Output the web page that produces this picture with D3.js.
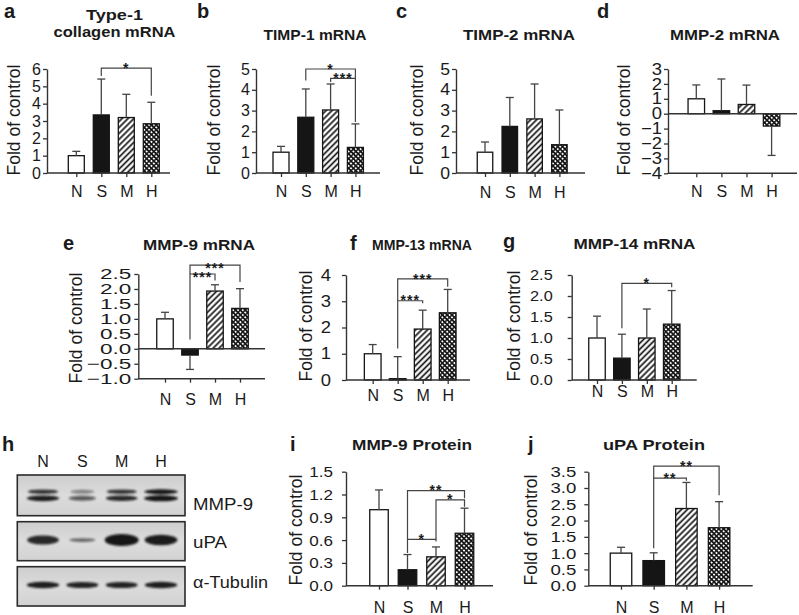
<!DOCTYPE html>
<html><head><meta charset="utf-8">
<script src="https://cdn.jsdelivr.net/npm/d3@7"></script>
<style>
body{margin:0;background:#fff}
svg{display:block}
text{font-family:Arial,"Liberation Sans",sans-serif;fill:#1a1a1a}
</style>
</head><body>
<svg id="fig" width="799" height="615"></svg>
<script>
// ---------------- DATA ----------------
const categories = ["N", "S", "M", "H"];

// a: Type-1 collagen mRNA
const collagenMean = [1.0, 3.35, 3.2, 2.84];
const collagenErr  = [0.25, 2.07, 1.34, 1.24];
const collagenTicks = [0, 1, 2, 3, 4, 5, 6];
const collagenSig = [["S", "H", 6.05, 5.6, 4.45, "*"]];

// b: TIMP-1 mRNA
const timp1Mean = [1.0, 2.68, 3.03, 1.23];
const timp1Err  = [0.28, 1.36, 1.25, 1.13];
const timp1Ticks = [0, 1, 2, 3, 4, 5];
const timp1Sig = [["S", "H", 5.0, 4.45, 4.55, "*"], ["M", "H", 4.55, 4.38, 2.45, "***"]];

// c: TIMP-2 mRNA
const timp2Mean = [1.0, 2.24, 2.6, 1.36];
const timp2Err  = [0.49, 1.39, 1.68, 1.67];
const timp2Ticks = [0, 1, 2, 3, 4, 5];
const timp2Sig = [];

// d: MMP-2 mRNA
const mmp2Mean = [1.0, 0.2, 0.62, -0.83];
const mmp2Err  = [0.93, 2.13, 1.3, 1.97];
const mmp2Ticks = [-4, -3, -2, -1, 0, 1, 2, 3];
const mmp2Sig = [];

// e: MMP-9 mRNA
const mmp9Mean = [1.0, -0.21, 1.93, 1.35];
const mmp9Err  = [0.22, 0.48, 0.21, 0.66];
const mmp9Ticks = [-1.0, -0.5, 0.0, 0.5, 1.0, 1.5, 2.0, 2.5];
const mmp9Sig = [["S", "M", 2.5, 0.31, 2.28, "***"], ["S", "H", 2.8, 2.5, 2.23, "***"]];

// f: MMP-13 mRNA
const mmp13Mean = [1.0, 0.05, 1.94, 2.56];
const mmp13Err  = [0.35, 0.84, 0.72, 0.89];
const mmp13Ticks = [0, 1, 2, 3, 4];
const mmp13Sig = [["S", "M", 3.02, 1.2, 2.92, "***"], ["S", "H", 3.85, 3.02, 3.55, "***"]];

// g: MMP-14 mRNA
const mmp14Mean = [1.0, 0.52, 1.0, 1.33];
const mmp14Err  = [0.52, 0.57, 0.69, 0.8];
const mmp14Ticks = [0.0, 0.5, 1.0, 1.5, 2.0, 2.5];
const mmp14Sig = [["S", "H", 2.3, 1.23, 2.21, "*"]];

// i: MMP-9 Protein
const mmp9ProtMean = [1.0, 0.21, 0.38, 0.69];
const mmp9ProtErr  = [0.26, 0.2, 0.13, 0.33];
const mmp9ProtTicks = [0.0, 0.3, 0.6, 0.9, 1.2, 1.5];
const mmp9ProtSig = [["S", "M", 0.61, 0.43, 0.58, "*"], ["M", "H", 1.13, 0.61, 1.04, "*"], ["S", "H", 1.25, 0.61, 1.15, "**"]];

// j: uPA Protein
const upaProtMean = [1.0, 0.77, 2.37, 1.78];
const upaProtErr  = [0.18, 0.24, 0.8, 0.8];
const upaProtTicks = [0.0, 0.5, 1.0, 1.5, 2.0, 2.5, 3.0, 3.5];
const upaProtSig = [["S", "M", 3.3, 1.15, 3.22, "**"], ["S", "H", 3.67, 3.3, 2.78, "**"]];

// h: western blot (relative band intensities)
const blotLanes = ["N", "S", "M", "H"];
const blotRowLabels = ["MMP-9", "uPA", "α-Tubulin"];
const mmp9BandUpper = [0.75, 0.35, 0.75, 0.95];
const mmp9BandLower = [0.9, 0.55, 0.85, 1.0];
const upaBand = [0.85, 0.5, 1.0, 0.92];
const tubulinBand = [0.9, 0.88, 0.88, 0.9];

const yLabel = "Fold of control";

const panels = [
  {id: "a", title: ["Type-1", "collagen mRNA"], mean: collagenMean, err: collagenErr, ticks: collagenTicks, fmt: "d", sig: collagenSig},
  {id: "b", title: ["TIMP-1 mRNA"], mean: timp1Mean, err: timp1Err, ticks: timp1Ticks, fmt: "d", sig: timp1Sig},
  {id: "c", title: ["TIMP-2 mRNA"], mean: timp2Mean, err: timp2Err, ticks: timp2Ticks, fmt: "d", sig: timp2Sig},
  {id: "d", title: ["MMP-2 mRNA"], mean: mmp2Mean, err: mmp2Err, ticks: mmp2Ticks, fmt: "d", sig: mmp2Sig},
  {id: "e", title: ["MMP-9 mRNA"], mean: mmp9Mean, err: mmp9Err, ticks: mmp9Ticks, fmt: ".1f", sig: mmp9Sig},
  {id: "f", title: ["MMP-13 mRNA"], mean: mmp13Mean, err: mmp13Err, ticks: mmp13Ticks, fmt: "d", sig: mmp13Sig},
  {id: "g", title: ["MMP-14 mRNA"], mean: mmp14Mean, err: mmp14Err, ticks: mmp14Ticks, fmt: ".1f", sig: mmp14Sig},
  {id: "i", title: ["MMP-9 Protein"], mean: mmp9ProtMean, err: mmp9ProtErr, ticks: mmp9ProtTicks, fmt: ".1f", sig: mmp9ProtSig},
  {id: "j", title: ["uPA Protein"], mean: upaProtMean, err: upaProtErr, ticks: upaProtTicks, fmt: ".1f", sig: upaProtSig}
];

// ---------------- LAYOUT ----------------
const layout = {
  a: {ax: 47, ex: 170, yt: 69, yb: 173, c0: 76.3, step: 25, bw: 16, catY: 197, pad: 2, tfs: 16, sx: 1.0, tx: 114.5, ty: [20, 37], tw: [57, 122], lx: 4, ly: 18, ylx: 20, yly: 120, starDy: 4.6},
  b: {ax: 256, ex: 380, yt: 69, yb: 173, c0: 281, step: 24.8, bw: 16, catY: 197, pad: 2, tfs: 16, sx: 1.0, tx: 315, ty: [40], tw: [103], lx: 197, ly: 18, ylx: 220, yly: 120, starDy: 4.6},
  c: {ax: 456, ex: 585, yt: 69, yb: 173, c0: 485, step: 24.8, bw: 15.5, catY: 198, pad: 2, tfs: 16, sx: 1.1, tx: 519, ty: [40], tw: [112], lx: 396, ly: 18, ylx: 423, yly: 120, starDy: 4.6},
  d: {ax: 668, ex: 797, yt: 69, yb: 173.3, c0: 696.3, step: 25.1, bw: 16.5, catY: 197, pad: 2, tfs: 16, sx: 1.15, tx: 725, ty: [40], tw: [110], lx: 597, ly: 18, ylx: 630, yly: 120, starDy: 4.6},
  e: {ax: 138.3, ex: 265, yt: 274, yb: 378.7, c0: 165, step: 25, bw: 16.5, catY: 405, pad: 3, tfs: 15, sx: 1.5, tx: 199, ty: [250], tw: [112], lx: 63, ly: 250, ylx: 82, yly: 328, starDy: 7.5},
  f: {ax: 346, ex: 470, yt: 275, yb: 380, c0: 372.7, step: 25, bw: 16.7, catY: 401, pad: 11, tfs: 16, sx: 1.15, tx: 422, ty: [250], tw: [100], lx: 350, ly: 250, ylx: 312, yly: 326, starDy: 4.6},
  g: {ax: 571.7, ex: 696.7, yt: 275, yb: 380, c0: 597, step: 24.9, bw: 16.5, catY: 397, pad: 15, tfs: 15.5, sx: 1.05, tx: 634.5, ty: [249], tw: [122], lx: 503, ly: 248, ylx: 520, yly: 326, starDy: 4.6},
  i: {ax: 346, ex: 493, yt: 471.7, yb: 585.7, c0: 379, step: 28.5, bw: 18.5, catY: 613, pad: 9, tfs: 15.5, sx: 1.1, tx: 412, ty: [450], tw: [120], lx: 290, ly: 451, ylx: 302, yly: 530, starDy: 4.6},
  j: {ax: 588.3, ex: 752.7, yt: 471.7, yb: 585.7, c0: 621, step: 32.7, bw: 21.5, catY: 613, pad: 8, tfs: 15.5, sx: 1.2, tx: 654, ty: [450], tw: [102], lx: 528, ly: 451, ylx: 537, yly: 530, starDy: 4.6}
};

const blotLayout = {x0: 17.3, x1: 185, rows: [[475, 515.7], [521.7, 560.7], [566.7, 606]],
  laneRange: [43, 161], labelY: 467, letter: [2, 451], rowLabelX: 193,
  rowLabelY: [510, 548, 588], rowLabelW: [60, 34, 75],
  bandY: {mmpU: 491.7, mmpL: 498.3, upa: 540, tub: 585}};

// ---------------- DRAW ----------------
const svg = d3.select("#fig");
const defs = svg.append("defs");

const hatch = defs.append("pattern").attr("id", "hatch").attr("patternUnits", "userSpaceOnUse")
  .attr("width", 4.2).attr("height", 4.2).attr("patternTransform", "rotate(45)");
hatch.append("rect").attr("width", 4.2).attr("height", 4.2).attr("fill", "#fff");
hatch.append("line").attr("x1", 2.1).attr("x2", 2.1).attr("y1", 0).attr("y2", 4.2)
  .attr("stroke", "#151515").attr("stroke-width", 1.7);

const check = defs.append("pattern").attr("id", "check").attr("patternUnits", "userSpaceOnUse")
  .attr("width", 3.4).attr("height", 3.4).attr("patternTransform", "rotate(45)");
check.append("rect").attr("width", 3.4).attr("height", 3.4).attr("fill", "#fff");
check.append("path").attr("d", "M0,1.7H3.4M1.7,0V3.4").attr("stroke", "#151515").attr("stroke-width", 1.5);

const blurF = defs.append("filter").attr("id", "blur").attr("x", "-50%").attr("y", "-100%").attr("width", "200%").attr("height", "300%");
blurF.append("feGaussianBlur").attr("stdDeviation", 1.1);

const fills = {N: "#fff", S: "#151515", M: "url(#hatch)", H: "url(#check)"};
const axisColor = "#333";

function stretch(sel, sx) {
  if (sx === 1) return;
  sel.each(function () {
    const w = this.getComputedTextLength();
    d3.select(this).attr("textLength", w * sx).attr("lengthAdjust", "spacingAndGlyphs");
  });
}

function drawPanel(p) {
  const L = layout[p.id];
  const g = svg.append("g");
  const ymin = d3.min(p.ticks), ymax = d3.max(p.ticks);
  const y = d3.scaleLinear().domain([ymin, ymax]).range([L.yb, L.yt]);
  const x = d3.scalePoint().domain(categories).range([L.c0, L.c0 + 3 * L.step]);

  // bars
  g.selectAll("rect.bar").data(p.mean).join("rect").attr("class", "bar")
    .attr("x", (d, i) => x(categories[i]) - L.bw / 2).attr("width", L.bw)
    .attr("y", d => Math.min(y(d), y(0))).attr("height", d => Math.abs(y(d) - y(0)))
    .attr("fill", (d, i) => fills[categories[i]])
    .attr("stroke", "#151515").attr("stroke-width", 1.3);

  // error bars
  const tip = (d, i) => y(d + (d < 0 ? -1 : 1) * p.err[i]);
  const eb = g.selectAll("g.err").data(p.mean).join("g").attr("class", "err");
  eb.append("line")
    .attr("x1", (d, i) => x(categories[i])).attr("x2", (d, i) => x(categories[i]))
    .attr("y1", d => y(d)).attr("y2", tip)
    .attr("stroke", "#444").attr("stroke-width", 1.3);
  eb.append("line")
    .attr("x1", (d, i) => x(categories[i]) - 4).attr("x2", (d, i) => x(categories[i]) + 4)
    .attr("y1", tip).attr("y2", tip)
    .attr("stroke", "#444").attr("stroke-width", 1.3);

  // y axis
  const yAxis = d3.axisLeft(y).tickValues(p.ticks).tickSize(4).tickPadding(L.pad).tickSizeOuter(0)
    .tickFormat(d3.format(p.fmt));
  const yg = g.append("g").attr("transform", `translate(${L.ax},0)`).call(yAxis);
  yg.select(".domain").attr("stroke", axisColor).attr("stroke-width", 1.4);
  yg.selectAll(".tick line").attr("stroke", axisColor).attr("stroke-width", 1.3);
  yg.selectAll(".tick text").attr("font-size", L.tfs).attr("fill", "#1a1a1a")
    .style("font-family", "Arial, 'Liberation Sans', sans-serif");
  stretch(yg.selectAll(".tick text"), L.sx);

  // x axis (at bottom of value range)
  const xAxis = d3.axisBottom(x).tickSize(4).tickSizeOuter(0);
  const xg = g.append("g").attr("transform", `translate(0,${y(ymin)})`).call(xAxis);
  xg.select(".domain").remove();
  xg.selectAll(".tick line").attr("stroke", axisColor).attr("stroke-width", 1.3);
  xg.selectAll(".tick text").attr("font-size", 16).attr("fill", "#1a1a1a")
    .style("font-family", "Arial, 'Liberation Sans', sans-serif")
    .attr("dy", null).attr("y", L.catY - y(ymin));
  g.append("line").attr("x1", L.ax).attr("x2", L.ex).attr("y1", y(ymin)).attr("y2", y(ymin))
    .attr("stroke", axisColor).attr("stroke-width", 1.4);
  if (ymin < 0) {
    g.append("line").attr("x1", L.ax).attr("x2", L.ex).attr("y1", y(0)).attr("y2", y(0))
      .attr("stroke", axisColor).attr("stroke-width", 1.4);
  }

  // significance brackets
  p.sig.forEach(([a, b, top, l1, l2, lab]) => {
    const x1 = x(a), x2 = x(b);
    g.append("path").attr("d", `M${x1},${y(l1)}V${y(top)}H${x2}V${y(l2)}`)
      .attr("fill", "none").attr("stroke", "#444").attr("stroke-width", 1.2);
    g.append("text").attr("x", (x1 + x2) / 2).attr("y", y(top) + L.starDy)
      .attr("text-anchor", "middle").attr("font-size", 14).attr("font-weight", "bold")
      .attr("letter-spacing", 1).text(lab);
  });

  // title
  p.title.forEach((t, k) => {
    g.append("text").attr("x", L.tx).attr("y", L.ty[k]).attr("text-anchor", "middle")
      .attr("font-size", 15.5).attr("font-weight", "bold")
      .attr("textLength", L.tw[k]).attr("lengthAdjust", "spacingAndGlyphs").text(t);
  });

  // panel letter
  g.append("text").attr("x", L.lx).attr("y", L.ly).attr("font-size", 20).attr("font-weight", "bold").text(p.id);

  // y label
  g.append("text").attr("transform", `translate(${L.ylx},${L.yly}) rotate(-90)`)
    .attr("text-anchor", "middle").attr("font-size", 17.5).text(yLabel);
}

panels.forEach(drawPanel);

// ---------------- WESTERN BLOT (h) ----------------
(function drawBlot() {
  const B = blotLayout;
  const g = svg.append("g");
  const lane = d3.scalePoint().domain(blotLanes).range(B.laneRange);

  g.append("text").attr("x", B.letter[0]).attr("y", B.letter[1]).attr("font-size", 20).attr("font-weight", "bold").text("h");
  g.selectAll("text.lane").data(blotLanes).join("text").attr("class", "lane")
    .attr("x", d => lane(d)).attr("y", B.labelY).attr("text-anchor", "middle").attr("font-size", 16).text(d => d);

  const grad = defs.append("linearGradient").attr("id", "blotbg").attr("x1", 0).attr("x2", 0).attr("y1", 0).attr("y2", 1);
  grad.append("stop").attr("offset", 0).attr("stop-color", "#cdcdcd");
  grad.append("stop").attr("offset", 0.5).attr("stop-color", "#dcdcdc");
  grad.append("stop").attr("offset", 1).attr("stop-color", "#d2d2d2");

  B.rows.forEach(([y0, y1]) => {
    g.append("rect").attr("x", B.x0).attr("y", y0).attr("width", B.x1 - B.x0).attr("height", y1 - y0)
      .attr("fill", "url(#blotbg)").attr("stroke", "#2a2a2a").attr("stroke-width", 1.6);
  });

  const bands = g.append("g").attr("filter", "url(#blur)");
  function drawBands(vals, yc, hFn) {
    bands.selectAll(null).data(vals).join("ellipse")
      .attr("cx", (d, i) => lane(blotLanes[i]))
      .attr("cy", yc)
      .attr("rx", d => (18 + 16 * d) / 2)
      .attr("ry", d => hFn(d) / 2)
      .attr("fill", "#141414")
      .attr("fill-opacity", d => Math.min(1, 0.15 + d * 0.9));
  }
  drawBands(mmp9BandUpper, B.bandY.mmpU, d => 3 + 2 * d);
  drawBands(mmp9BandLower, B.bandY.mmpL, d => 3.5 + 2.5 * d);
  drawBands(upaBand, B.bandY.upa, d => 1 + 11 * d * d);
  drawBands(tubulinBand, B.bandY.tub, d => 7 * d);

  blotRowLabels.forEach((t, k) => {
    g.append("text").attr("x", B.rowLabelX).attr("y", B.rowLabelY[k]).attr("font-size", 16)
      .attr("textLength", B.rowLabelW[k]).attr("lengthAdjust", "spacingAndGlyphs").text(t);
  });
})();
</script>
</body></html>
